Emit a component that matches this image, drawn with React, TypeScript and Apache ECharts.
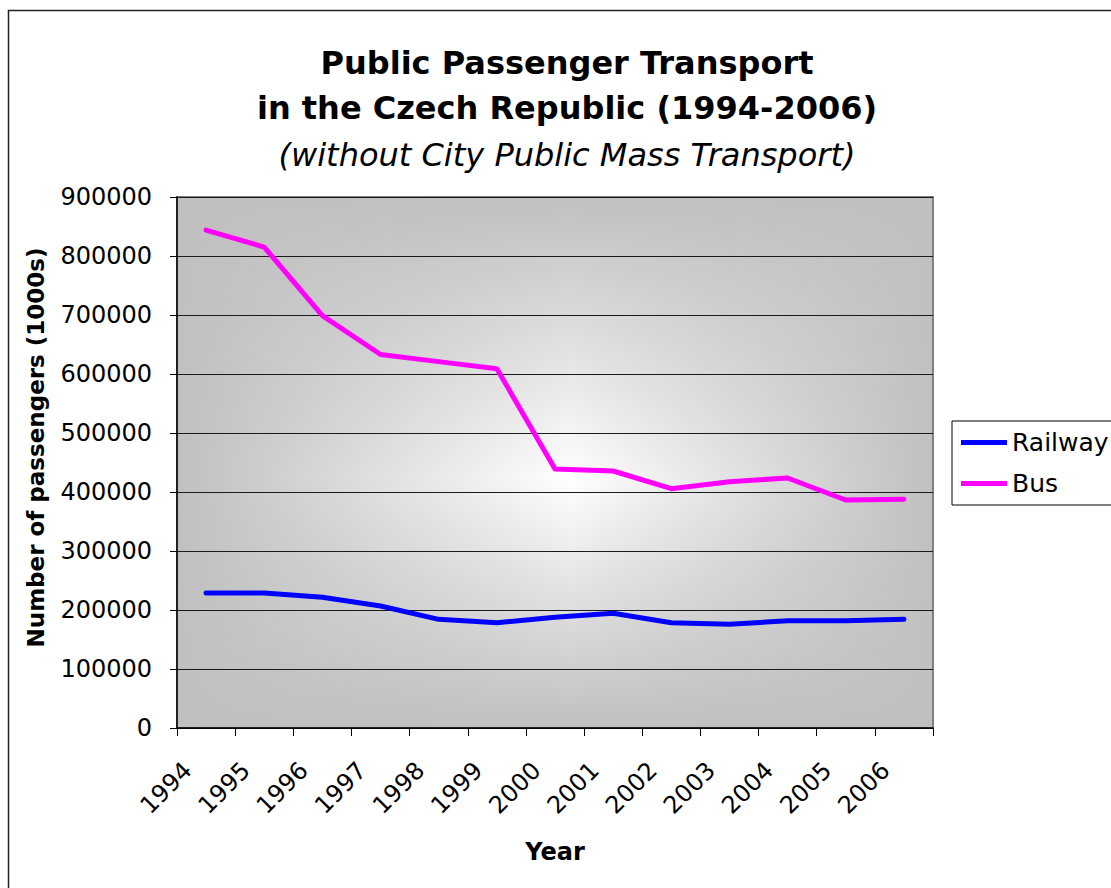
import React, { useEffect, useRef } from "react";
import * as echarts from "echarts";

const years = ["1994", "1995", "1996", "1997", "1998", "1999", "2000", "2001", "2002", "2003", "2004", "2005", "2006"];
const railway = [229000, 229000, 221500, 206800, 184200, 178500, 187600, 194400, 178500, 175700, 181900, 181900, 184200];
const bus = [844000, 815000, 699000, 633000, 621000, 609000, 439000, 435600, 405600, 417500, 423700, 386400, 387600];
const yMin = 0;
const yMax = 900000;
const yStep = 100000;

const FONT = "DejaVu Sans";

export default function App() {
  const ref = useRef<HTMLDivElement>(null);
  useEffect(() => {
    document.body.style.margin = "0";
    const chart = echarts.init(ref.current!, null, { renderer: "svg" });
    const gl = 177, gt = 197, gw = 756, gh = 531;
    chart.setOption({
      animation: false,
      backgroundColor: "#ffffff",
      title: {
        text: "Public Passenger Transport\nin the Czech Republic (1994-2006)",
        subtext: "(without City Public Mass Transport)",
        left: 567,
        top: 40,
        textAlign: "center",
        padding: 0,
        itemGap: 2,
        textStyle: { fontFamily: FONT, fontSize: 32, fontWeight: "bold", color: "#000", lineHeight: 45 },
        subtextStyle: { fontFamily: FONT, fontSize: 32, fontStyle: "italic", color: "#000", lineHeight: 45 },
      },
      legend: {
        orient: "vertical",
        left: 952,
        top: 421,
        padding: [9, 60, 9, 9],
        itemGap: 16,
        itemWidth: 46,
        itemHeight: 5,
        icon: "rect",
        borderColor: "#000",
        borderWidth: 1,
        backgroundColor: "#fff",
        textStyle: { fontFamily: FONT, fontSize: 25, color: "#000" },
        data: ["Railway", "Bus"],
      },
      grid: {
        left: gl,
        top: gt,
        width: gw,
        height: gh,
        show: true,
        borderColor: "#808080",
        borderWidth: 2,
        backgroundColor: "transparent",
        outerBoundsMode: "none",
        containLabel: false,
      },
      graphic: [
        {
          type: "rect",
          z: -10,
          shape: { x: gl, y: gt, width: gw, height: gh },
          style: {
            fill: {
              type: "linear", x: 0, y: 0, x2: 1, y2: 0,
              colorStops: [
                { offset: 0, color: "#c0c0c0" },
                { offset: 0.52, color: "#ffffff" },
                { offset: 1, color: "#c0c0c0" },
              ],
            },
          },
        },
        {
          type: "rect",
          z: -9,
          shape: { x: gl, y: gt, width: gw, height: gh },
          style: {
            fill: {
              type: "linear", x: 0, y: 0, x2: 0, y2: 1,
              colorStops: [
                { offset: 0, color: "rgba(192,192,192,1)" },
                { offset: 0.53, color: "rgba(192,192,192,0)" },
                { offset: 1, color: "rgba(192,192,192,1)" },
              ],
            },
          },
        },
        {
          type: "rect",
          z: 100,
          shape: { x: 8.5, y: 10.5, width: 1300, height: 1000 },
          style: { fill: "none", stroke: "#222", lineWidth: 1.5 },
        },
      ],
      xAxis: {
        type: "category",
        data: years,
        boundaryGap: true,
        name: "Year",
        nameLocation: "middle",
        nameGap: 112,
        nameTextStyle: { fontFamily: FONT, fontSize: 24, fontWeight: "bold", color: "#000" },
        axisLine: { show: true, lineStyle: { color: "#000", width: 1.5 } },
        axisTick: { show: true, inside: false, length: 8, interval: 0, alignWithLabel: false, lineStyle: { color: "#000", width: 1 } },
        axisLabel: {
          interval: 0,
          rotate: 45,
          margin: 20,
          padding: [0, 26, 0, 0],
          fontFamily: FONT,
          fontSize: 24,
          color: "#000",
        },
        splitLine: { show: false },
      },
      yAxis: {
        type: "value",
        min: yMin,
        max: yMax,
        interval: yStep,
        name: "Number of passengers (1000s)",
        nameLocation: "middle",
        nameGap: 130,
        nameTextStyle: { fontFamily: FONT, fontSize: 23, fontWeight: "bold", color: "#000", padding: [0, 0, 0, 30] },
        axisLine: { show: true, lineStyle: { color: "#000", width: 1.5 } },
        axisTick: { show: true, inside: false, length: 7, lineStyle: { color: "#000", width: 1 } },
        axisLabel: { margin: 25, fontFamily: FONT, fontSize: 24, color: "#000", formatter: (v: number) => String(v) },
        splitLine: { show: true, lineStyle: { color: "#1a1a1a", width: 1 } },
      },
      series: [
        {
          name: "Railway",
          type: "line",
          data: railway,
          symbol: "none",
          color: "#0000ff",
          lineStyle: { color: "#0000ff", width: 5, cap: "round", join: "round" },
          z: 5,
        },
        {
          name: "Bus",
          type: "line",
          data: bus,
          symbol: "none",
          color: "#ff00ff",
          lineStyle: { color: "#ff00ff", width: 5, cap: "round", join: "round" },
          z: 5,
        },
      ],
    });
    return () => chart.dispose();
  }, []);
  return <div ref={ref} style={{ width: 1111, height: 888 }} />;
}
